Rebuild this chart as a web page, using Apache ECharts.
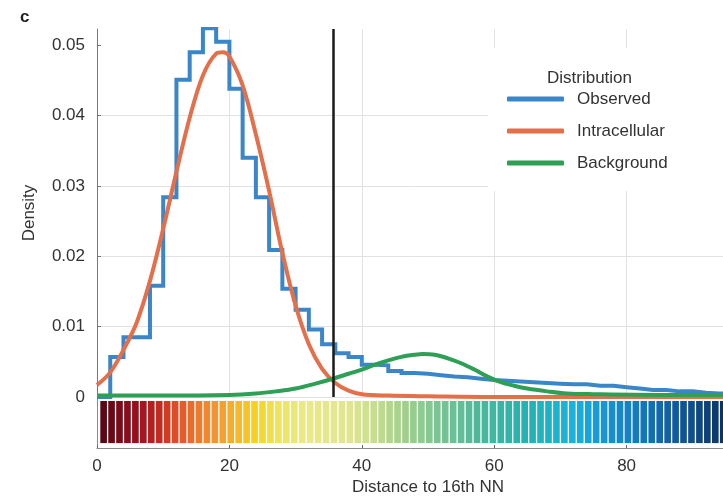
<!DOCTYPE html>
<html><head><meta charset="utf-8">
<script src="https://cdn.jsdelivr.net/npm/echarts@6/dist/echarts.min.js"></script>
<style>html,body{margin:0;padding:0;background:#fff}#c{width:723px;height:497px}</style>
</head><body><div id="c"></div>
<script>
// ---- data ----
const binStart = [0,2,4,6,8,10,12,14,16,18,20,22,24,26,28,30,32,34,36,38,40,42,44,46,48,50,52,54,56,58,60,62,64,66,68,70,72,74,76,78,80,82,84,86,88,90,92,94];
const binEnd = 96;
const xMax = 100;
const observed = [0,0.0057,0.0085,0.0085,0.0158,0.0284,0.0451,0.0490,0.0524,0.0505,0.0438,0.0340,0.0284,0.0209,0.0154,0.0124,0.0096,0.0075,0.0062,0.0057,0.0046,0.0045,0.0037,0.0034,0.0033,0.0031,0.0029,0.0028,0.0026,0.0024,0.0023,0.0022,0.0021,0.0020,0.0019,0.0018,0.0018,0.0016,0.0016,0.0014,0.0012,0.0010,0.0010,0.0008,0.0008,0.0006,0.0005,0.0005];
const fitX = [0,2,4,6,8,10,12,14,16,18,19,20,22,24,26,28,30,32,34,36,38,40,44,50,60,70,80,96];
const intracellular = [0.0017,0.0035,0.0067,0.0106,0.0165,0.0239,0.0320,0.0397,0.0457,0.0488,0.0490,0.0484,0.0443,0.0373,0.0293,0.0205,0.0130,0.0075,0.0040,0.0020,0.0009,0.0004,0.0002,0.0001,0,0,0,0];
const bgX = [0,10,20,24,27,30,33,36,38,40,42,44,46,48,49.2,51,53,55,57,59,61,63,65,68,71,75,85,96];
const background = [0.0002,0.0002,0.0003,0.0005,0.0008,0.0012,0.0019,0.0027,0.0033,0.0039,0.0046,0.0052,0.0057,0.0060,0.0061,0.0060,0.0055,0.0048,0.0039,0.0029,0.0021,0.0016,0.0012,0.0008,0.0005,0.0004,0.0003,0.0003];
const threshold = 35.7;
const yTicks = [0,0.01,0.02,0.03,0.04,0.05];
const xTicks = [0,20,40,60,80];
const seriesNames = ['Observed','Intracellular','Background'];

// ---- style ----
const colors = ['#3a86c8','#e36f4b','#2da055'];
const FONT = '"Liberation Sans", Arial, sans-serif';
const FS = 17;
const palette = [[0,'#4e0612'],[3,'#740a18'],[6,'#961020'],[9,'#bd261f'],[12,'#de4f28'],[15,'#ec772d'],[18,'#f39632'],[21,'#f7b42b'],[24,'#f8d21c'],[27,'#f0e25a'],[31,'#ece985'],[38,'#e1e690'],[42,'#c6de8e'],[46,'#a2d18a'],[52,'#78c494'],[58,'#4cb79b'],[64,'#27b2ae'],[68,'#1bb4c6'],[72,'#1ab3e0'],[76,'#1898d4'],[82,'#1578bc'],[88,'#11579a'],[96,'#0b2d5a'],[100,'#0a2850']];
const cellCount = 83, cellOffset = 0.4, cellW = 1.2;

function hex2rgb(h){return [parseInt(h.slice(1,3),16),parseInt(h.slice(3,5),16),parseInt(h.slice(5,7),16)];}
function colorAt(v){
  for(let i=0;i<palette.length-1;i++){
    const a=palette[i], b=palette[i+1];
    if(v<=b[0]||i===palette.length-2){
      const t=Math.max(0,Math.min(1,(v-a[0])/(b[0]-a[0])));
      const ca=hex2rgb(a[1]), cb=hex2rgb(b[1]);
      return 'rgb('+ca.map((c,k)=>Math.round(c+(cb[k]-c)*t)).join(',')+')';
    }
  }
}
const cells=[]; for(let i=0;i<cellCount;i++) cells.push([cellOffset+i*cellW]);

const obsData = binStart.map((x,i)=>[x,observed[i]]);
obsData.push([binEnd, observed[observed.length-1]]);

const chart = echarts.init(document.getElementById('c'),null,{renderer:'canvas'});
chart.setOption({
  animation:false,
  textStyle:{fontFamily:FONT},
  title:[
    {text:'c',left:15,top:4,textStyle:{fontSize:17,fontWeight:'bold',color:'#222',fontFamily:FONT}},
    {text:'Distribution',left:542,top:65,textStyle:{fontSize:FS,fontWeight:'normal',color:'#333',fontFamily:FONT}}
  ],
  legend:{
    data:seriesNames, orient:'vertical', left:488, top:48,
    padding:[41,60,18,19], backgroundColor:'#fff',
    icon:'roundRect', itemWidth:57, itemHeight:5, itemGap:12,
    textStyle:{fontSize:FS,color:'#333',lineHeight:20,fontFamily:FONT,padding:[0,0,0,8]}
  },
  grid:[
    {left:97,width:662,top:29,height:368,outerBoundsMode:'none',containLabel:false},
    {left:97,width:662,top:399,height:49,outerBoundsMode:'none',containLabel:false}
  ],
  xAxis:[
    {type:'value',gridIndex:0,min:0,max:xMax,interval:20,
     axisLine:{show:false},axisTick:{show:false},axisLabel:{show:false},
     splitLine:{show:true,lineStyle:{color:'#e2e2e2',width:1}}},
    {type:'value',gridIndex:1,min:0,max:xMax,interval:20,
     axisLine:{show:true,lineStyle:{color:'#8a8a8a',width:1}},
     axisTick:{show:true,inside:true,length:3,lineStyle:{color:'#666'},customValues:xTicks},
     axisLabel:{fontSize:FS,color:'#333',margin:10,fontFamily:FONT,customValues:xTicks},
     splitLine:{show:false},
     name:'Distance to 16th NN',nameLocation:'middle',nameGap:31,
     nameTextStyle:{fontSize:FS,color:'#333',fontFamily:FONT}}
  ],
  yAxis:[
    {type:'value',gridIndex:0,min:0,max:0.0523,interval:0.01,
     axisLine:{show:true,lineStyle:{color:'#777',width:1}},
     axisTick:{show:true,inside:true,length:4,lineStyle:{color:'#777'},customValues:yTicks},
     axisLabel:{fontSize:FS,color:'#333',margin:12,fontFamily:FONT,customValues:yTicks,
       formatter:v=>v===0?'0':v.toFixed(2)},
     splitLine:{show:true,showMaxLine:false,lineStyle:{color:'#e2e2e2',width:1}},
     name:'Density',nameLocation:'middle',nameGap:59,
     nameTextStyle:{fontSize:FS,color:'#333',fontFamily:FONT}},
    {type:'value',gridIndex:1,min:0,max:1,
     axisLine:{show:true,lineStyle:{color:'#8a8a8a',width:1}},
     axisTick:{show:false},axisLabel:{show:false},splitLine:{show:false}}
  ],
  series:[
    {name:seriesNames[0],type:'line',step:'end',data:obsData,showSymbol:false,color:colors[0],
     lineStyle:{width:4,color:colors[0],join:'miter'},z:2,
     markLine:{silent:true,symbol:['none','none'],label:{show:false},
       lineStyle:{color:'#1a1a1a',width:2.5,type:'solid'},data:[{xAxis:threshold}]}},
    {name:seriesNames[1],type:'line',smooth:0.35,data:fitX.map((x,i)=>[x,intracellular[i]]),showSymbol:false,color:colors[1],
     lineStyle:{width:4,color:colors[1]},z:3},
    {name:seriesNames[2],type:'line',smooth:0.35,data:bgX.map((x,i)=>[x,background[i]]),showSymbol:false,color:colors[2],
     lineStyle:{width:4,color:colors[2]},z:4},
    {type:'custom',xAxisIndex:1,yAxisIndex:1,data:cells,clip:true,silent:true,
     renderItem:function(params,api){
       const x0=api.value(0), x1=x0+cellW;
       const p0=api.coord([x0,0.96]), p1=api.coord([x1,0.1]);
       return {type:'rect',shape:{x:p0[0]+0.65,y:p0[1],width:p1[0]-p0[0]-1.3,height:p1[1]-p0[1]},
         style:{fill:colorAt(x0+cellW/2)}};
     }}
  ]
});
</script>
</body></html>
